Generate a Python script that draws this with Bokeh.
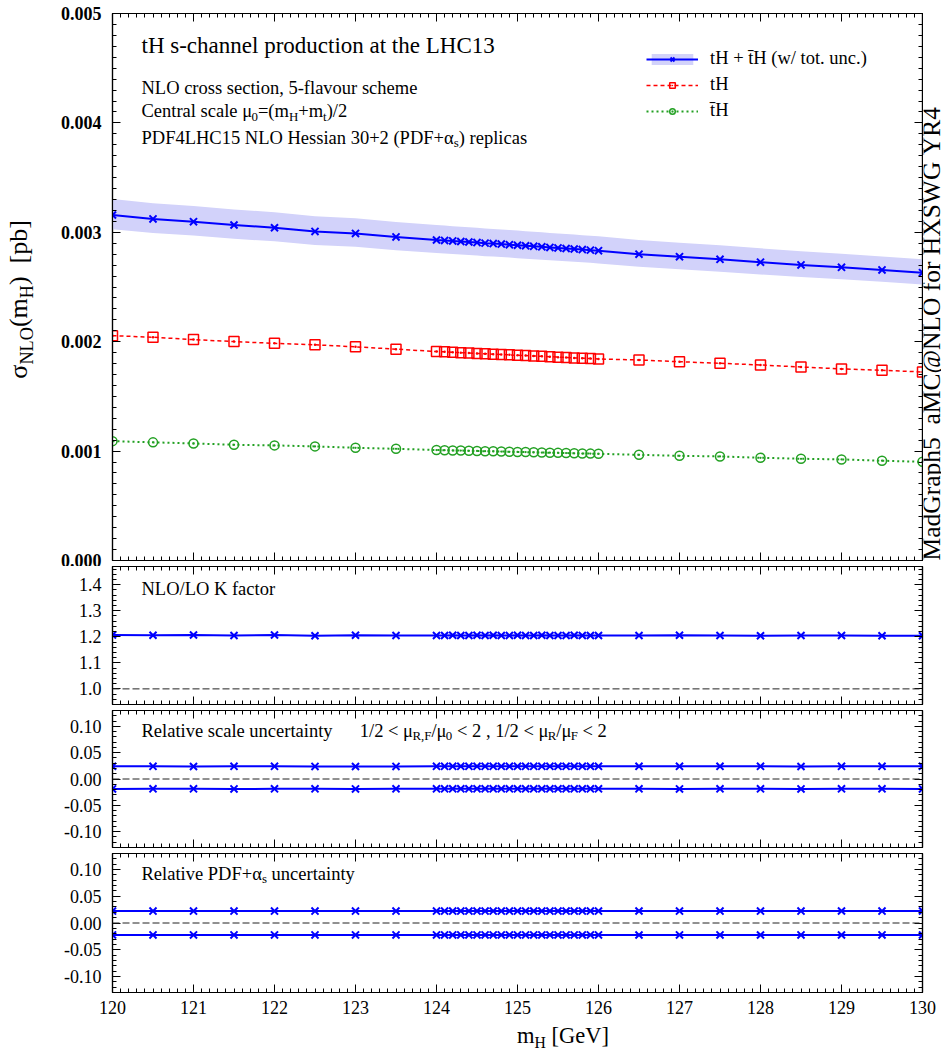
import math
from bokeh.plotting import figure
from bokeh.models import (Range1d, LinearAxis, SingleIntervalTicker, PrintfTickFormatter,
                          Label, Legend, LegendItem, Span, CustomLabelingPolicy)
from bokeh.layouts import column, row
from bokeh.embed import file_html
from bokeh.resources import INLINE

# ---------------- data ----------------
mh = [120.0, 120.5, 121.0, 121.5, 122.0, 122.5, 123.0, 123.5,
      124.0, 124.1, 124.2, 124.3, 124.4, 124.5, 124.6, 124.7, 124.8, 124.9, 125.0,
      125.1, 125.2, 125.3, 125.4, 125.5, 125.6, 125.7, 125.8, 125.9, 126.0,
      126.5, 127.0, 127.5, 128.0, 128.5, 129.0, 129.5, 130.0]

sigma_tot = [0.003158, 0.003122, 0.003097, 0.003067, 0.003042, 0.003008, 0.002990, 0.002958,
             0.002930, 0.002926, 0.002921, 0.002916, 0.002911, 0.002906, 0.002901, 0.002897, 0.002892, 0.002887, 0.002882,
             0.002877, 0.002872, 0.002867, 0.002862, 0.002857, 0.002852, 0.002847, 0.002842, 0.002837, 0.002832,
             0.002800, 0.002777, 0.002753, 0.002727, 0.002702, 0.002680, 0.002656, 0.002631]

sigma_tH = [0.002055, 0.002041, 0.002019, 0.002001, 0.001985, 0.001972, 0.001953, 0.001932,
            0.001910, 0.001907, 0.001903, 0.001900, 0.001897, 0.001893, 0.001890, 0.001886, 0.001883, 0.001880, 0.001876,
            0.001873, 0.001869, 0.001866, 0.001863, 0.001859, 0.001856, 0.001852, 0.001849, 0.001846, 0.001842,
            0.001833, 0.001817, 0.001803, 0.001787, 0.001769, 0.001751, 0.001739, 0.001723]

sigma_tbH = [0.001091, 0.001080, 0.001070, 0.001058, 0.001052, 0.001043, 0.001030, 0.001021,
             0.001010, 0.001008, 0.001006, 0.001005, 0.001003, 0.001001, 0.000999, 0.000998, 0.000996, 0.000994, 0.000992,
             0.000991, 0.000989, 0.000987, 0.000985, 0.000984, 0.000982, 0.000980, 0.000978, 0.000977, 0.000975,
             0.000966, 0.000957, 0.000951, 0.000939, 0.000930, 0.000924, 0.000912, 0.000902]

k_factor = [1.207, 1.206, 1.207, 1.205, 1.207, 1.204, 1.206, 1.205,
            1.205, 1.205, 1.206, 1.205, 1.205, 1.206, 1.205, 1.206, 1.205, 1.205, 1.206,
            1.205, 1.205, 1.206, 1.205, 1.205, 1.205, 1.206, 1.205, 1.205, 1.205,
            1.205, 1.206, 1.205, 1.204, 1.205, 1.205, 1.204, 1.204]

scale_up = [0.0241, 0.0240, 0.0238, 0.0240, 0.0240, 0.0239, 0.0238, 0.0239,
            0.0240, 0.0240, 0.0240, 0.0240, 0.0240, 0.0240, 0.0240, 0.0240, 0.0240, 0.0240, 0.0240,
            0.0240, 0.0240, 0.0240, 0.0240, 0.0240, 0.0240, 0.0240, 0.0240, 0.0240, 0.0240,
            0.0241, 0.0240, 0.0241, 0.0240, 0.0238, 0.0240, 0.0240, 0.0241]

scale_dn = [-0.0188, -0.0187, -0.0187, -0.0188, -0.0187, -0.0187, -0.0188, -0.0187,
            -0.0187, -0.0187, -0.0187, -0.0187, -0.0187, -0.0187, -0.0187, -0.0187, -0.0187, -0.0187, -0.0187,
            -0.0187, -0.0187, -0.0187, -0.0187, -0.0187, -0.0187, -0.0187, -0.0187, -0.0187, -0.0187,
            -0.0187, -0.0188, -0.0187, -0.0187, -0.0188, -0.0187, -0.0187, -0.0188]

pdf_up = [0.0223, 0.0223, 0.0223, 0.0223, 0.0223, 0.0223, 0.0223, 0.0223,
          0.0223, 0.0223, 0.0223, 0.0223, 0.0223, 0.0223, 0.0223, 0.0223, 0.0223, 0.0223, 0.0223,
          0.0223, 0.0223, 0.0223, 0.0223, 0.0223, 0.0223, 0.0223, 0.0223, 0.0223, 0.0223,
          0.0224, 0.0223, 0.0223, 0.0223, 0.0223, 0.0224, 0.0223, 0.0224]

pdf_dn = [-0.0223, -0.0223, -0.0223, -0.0223, -0.0223, -0.0223, -0.0223, -0.0223,
          -0.0223, -0.0223, -0.0223, -0.0223, -0.0223, -0.0223, -0.0223, -0.0223, -0.0223, -0.0223, -0.0223,
          -0.0223, -0.0223, -0.0223, -0.0223, -0.0223, -0.0223, -0.0223, -0.0223, -0.0223, -0.0223,
          -0.0224, -0.0223, -0.0223, -0.0224, -0.0223, -0.0224, -0.0223, -0.0224]

# total uncertainty band = scale + PDF (linear sum)
band_hi = [c * (1 + a + b) for c, a, b in zip(sigma_tot, scale_up, pdf_up)]
band_lo = [c * (1 + a + b) for c, a, b in zip(sigma_tot, scale_dn, pdf_dn)]

# ---------------- styling ----------------
FONT = "Liberation Serif"
BLUE = "#0000ff"
RED = "#ff0000"
GREEN = "#22a022"
BAND = "#d2d2fa"
DASH = "#222222"

W = {' ': .25, '(': .333, ')': .333, '+': .564, ',': .25, '-': .333, '.': .25, '/': .278,
     '<': .564, '=': .564, '@': .921, '[': .333, ']': .333, '_': .5,
     'A': .722, 'B': .667, 'C': .667, 'D': .722, 'E': .611, 'F': .556, 'G': .722, 'H': .722, 'I': .333,
     'K': .722, 'L': .611, 'M': .889, 'N': .722, 'O': .722, 'P': .556, 'R': .667,
     'S': .556, 'W': .944, 'X': .722, 'Y': .722,
     'a': .444, 'b': .5, 'c': .444, 'd': .5, 'e': .444, 'f': .333, 'g': .5, 'h': .5, 'i': .278,
     'k': .5, 'l': .278, 'm': .778, 'n': .5, 'o': .5, 'p': .5, 'r': .333, 's': .389, 't': .278,
     'u': .5, 'v': .5, 'w': .722, 'x': .5, 'y': .5, 'z': .444,
     'μ': .5, 'α': .53, 'σ': .55}

MID = 0.34  # labels are centred on their anchor: baseline lies MID*size below the centre


def text_width(s, size):
    return sum(W.get(c, .5) for c in s) * size


def add_runs(p, x, y, x0, y0, parts, size, sub_ratio=0.7, shift=0.2, angle=0.0):
    """x0, y0: baseline start offset (px) from the data anchor (x, y)."""
    off = 0.0
    for txt, kind in parts:
        fs = size * sub_ratio if kind == "s" else size
        d = shift * size if kind == "s" else 0.0
        if angle == 0.0:
            xo, yo = x0 + off, y0 - d + MID * fs
        else:
            xo, yo = x0 + d - MID * fs, y0 + off
        p.add_layout(Label(x=x, y=y, x_offset=xo, y_offset=yo, text=txt.replace(" ", "\u00a0"),
                           text_font=FONT, text_font_size=f"{fs:.1f}px", text_baseline="alphabetic",
                           text_align="left", angle=angle, text_color="black"))
        off += text_width(txt, fs)


def style_axis(ax, labels, bold=False, standoff=11):
    ax.axis_line_color = "black"
    ax.axis_line_width = 1.2
    ax.major_tick_in = 8
    ax.major_tick_out = 0
    ax.minor_tick_in = 4
    ax.minor_tick_out = 0
    ax.major_tick_line_color = "black"
    ax.minor_tick_line_color = "black"
    ax.major_tick_line_width = 1
    ax.minor_tick_line_width = 1
    if labels:
        ax.major_label_text_font = FONT
        ax.major_label_text_font_size = "18px"
        ax.major_label_text_color = "black"
        ax.major_label_standoff = standoff
        if bold:
            ax.major_label_text_font_style = "bold"
    else:
        ax.major_label_text_font_size = "0px"
        ax.major_label_standoff = 0
        ax.major_label_policy = CustomLabelingPolicy(code="return []")


xr = Range1d(120, 130)


def make_fig(width, height, yr, left, right, top, bottom, yinterval, yminor, yfmt,
             xlabels=False, ybold=False):
    p = figure(width=width, height=height, x_range=xr, y_range=yr,
               output_backend="svg", toolbar_location=None,
               x_axis_type=None, y_axis_type=None,
               min_border_left=left, min_border_right=right,
               min_border_top=top, min_border_bottom=bottom)
    p.outline_line_color = "black"
    p.outline_line_width = 1.2
    for place in ("below", "above"):
        ax = LinearAxis(ticker=SingleIntervalTicker(interval=1, num_minor_ticks=10),
                        formatter=PrintfTickFormatter(format="%d"))
        style_axis(ax, xlabels and place == "below", standoff=8)
        p.add_layout(ax, place)
    for place in ("left", "right"):
        ax = LinearAxis(ticker=SingleIntervalTicker(interval=yinterval, num_minor_ticks=yminor),
                        formatter=PrintfTickFormatter(format=yfmt))
        style_axis(ax, place == "left", bold=ybold, standoff=11)
        p.add_layout(ax, place)
    return p


def make_strip(width, height, x0, x1, y_top, y_bot):
    s = figure(width=width, height=height, x_range=Range1d(x0, x1), y_range=Range1d(y_bot, y_top),
               output_backend="svg", toolbar_location=None, x_axis_type=None, y_axis_type=None,
               min_border=0)
    s.outline_line_color = None
    return s


# ---------------- panel 1: cross sections ----------------
p1 = make_fig(883, 566, Range1d(0, 0.005), 72, 1, 13, 6, 0.001, 10, "%.3f", ybold=True)
band_r = p1.varea(x=mh, y1=band_lo, y2=band_hi, fill_color=BAND, fill_alpha=1.0)
tot_l = p1.line(mh, sigma_tot, line_color=BLUE, line_width=2)
tot_s = p1.scatter(mh, sigma_tot, marker="x", size=10, line_color=BLUE, line_width=2)
th_l = p1.line(mh, sigma_tH, line_color=RED, line_width=1.5, line_dash="4 3")
th_s = p1.scatter(mh, sigma_tH, marker="square_dot", size=10, line_color=RED,
                  fill_color=None, line_width=1.5)
tb_l = p1.line(mh, sigma_tbH, line_color=GREEN, line_width=2, line_dash="2 3")
tb_s = p1.scatter(mh, sigma_tbH, marker="circle_dot", size=9, line_color=GREEN,
                  fill_color=None, line_width=1.5)

legend = Legend(items=[
    LegendItem(label="tH + t\u0304H (w/ tot. unc.)", renderers=[band_r, tot_l, tot_s]),
    LegendItem(label="tH", renderers=[th_l, th_s]),
    LegendItem(label="t\u0304H", renderers=[tb_l, tb_s]),
], location=(534, 439))
legend.label_text_font = FONT
legend.label_text_font_size = "18.5px"
legend.label_text_color = "black"
legend.glyph_width = 52
legend.glyph_height = 14
legend.label_height = 14
legend.spacing = 5
legend.padding = 0
legend.margin = 0
legend.label_standoff = 12
legend.border_line_alpha = 0
legend.background_fill_alpha = 0
p1.add_layout(legend)

TOP1 = 13  # page y of frame top
add_runs(p1, 120, 0.005, 29, -(53.3 - TOP1), [("tH s-channel production at the LHC13", "n")], 23)
add_runs(p1, 120, 0.005, 29, -(93.3 - TOP1), [("NLO cross section, 5-flavour scheme", "n")], 18.5)
add_runs(p1, 120, 0.005, 29, -(117 - TOP1),
         [("Central scale μ", "n"), ("0", "s"), ("=(m", "n"), ("H", "s"), ("+m", "n"), ("t", "s"), (")/2", "n")], 18.5)
add_runs(p1, 120, 0.005, 29, -(143.3 - TOP1),
         [("PDF4LHC15 NLO Hessian 30+2 (PDF+α", "n"), ("s", "s"), (") replicas", "n")], 18.5)

# left strip with the rotated y-axis title (coordinates = page pixels)
ystrip = make_strip(40, 566, 0, 40, 0, 566)
add_runs(ystrip, 27, 378, 0, 0,
         [("σ", "n"), ("NLO", "s"), ("(m", "n"), ("H", "s"), (")  [pb]", "n")], 26, angle=math.pi / 2)

# right strip with the rotated side note
rstrip = make_strip(18, 566, 923, 941, 0, 566)
add_runs(rstrip, 940, 566, 0, 0, [("MadGraph5_aMC@NLO for HXSWG YR4", "n")], 25.5, angle=math.pi / 2)

# ---------------- panel 2: K factor ----------------
p2 = make_fig(941, 141, Range1d(0.94, 1.47), 112, 19, 0, 3, 0.1, 5, "%.1f")
p2.add_layout(Span(location=1.0, dimension="width", line_color=DASH, line_width=1, line_dash="7 3"))
p2.line(mh, k_factor, line_color=BLUE, line_width=2)
p2.scatter(mh, k_factor, marker="x", size=10, line_color=BLUE, line_width=2)
add_runs(p2, 120, 1.47, 29, -29, [("NLO/LO K factor", "n")], 18.5)

# ---------------- panel 3: scale uncertainty ----------------
p3 = make_fig(941, 143, Range1d(-0.13, 0.13), 112, 19, 3, 3, 0.05, 5, "%.2f")
p3.add_layout(Span(location=0.0, dimension="width", line_color=DASH, line_width=1, line_dash="7 3"))
for arr in (scale_up, scale_dn):
    p3.line(mh, arr, line_color=BLUE, line_width=2)
    p3.scatter(mh, arr, marker="x", size=10, line_color=BLUE, line_width=2)
add_runs(p3, 120, 0.13, 29, -26.7, [("Relative scale uncertainty", "n")], 18.5)
add_runs(p3, 120, 0.13, 359.3 - 112, -26.7,
         [("1/2 < μ", "n"), ("R,F", "s"), ("/μ", "n"), ("0", "s"), (" < 2 , 1/2 < μ", "n"),
          ("R", "s"), ("/μ", "n"), ("F", "s"), (" < 2", "n")], 18.5)

# ---------------- panel 4: PDF uncertainty ----------------
p4 = make_fig(941, 172, Range1d(-0.13, 0.13), 112, 19, 3, 30, 0.05, 5, "%.2f", xlabels=True)
p4.add_layout(Span(location=0.0, dimension="width", line_color=DASH, line_width=1, line_dash="7 3"))
for arr in (pdf_up, pdf_dn):
    p4.line(mh, arr, line_color=BLUE, line_width=2)
    p4.scatter(mh, arr, marker="x", size=10, line_color=BLUE, line_width=2)
add_runs(p4, 120, 0.13, 29, -26.3, [("Relative PDF+α", "n"), ("s", "s"), (" uncertainty", "n")], 18.5)

# bottom strip with the x-axis title (coordinates = page pixels)
xstrip = make_strip(941, 29, 0, 941, 1022, 1051)
add_runs(xstrip, 470, 1043, 0, 0, [("m", "n"), ("H", "s"), (" [GeV]", "n")], 22.5)

layout = column(row(ystrip, p1, rstrip, spacing=0), p2, p3, p4, xstrip, spacing=0)
open("out.html", "w").write(file_html(layout, INLINE))
